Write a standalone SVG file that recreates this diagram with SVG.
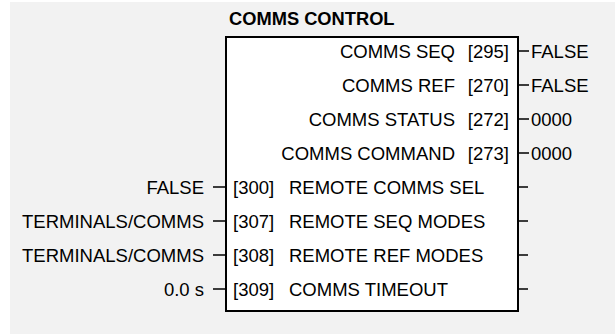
<svg xmlns="http://www.w3.org/2000/svg" width="615" height="334" viewBox="0 0 615 334">
<style>
text{font-family:"Liberation Sans",Arial,sans-serif;font-size:18.5px;fill:#000}
.title{font-weight:bold;font-size:18.3px}
.end{text-anchor:end}
.box{fill:#fff;stroke:#000;stroke-width:2}
.lead{stroke:#000;stroke-width:1.5;fill:none}
</style>
<rect x="10" y="2" width="605" height="332" fill="#f2f2f2"/>
<g id="comms-control">
<text class="title" x="229" y="25">COMMS CONTROL</text>
<rect class="box" x="226" y="37" width="292" height="274"/>
<text class="end" x="455" y="58">COMMS SEQ</text><text class="end" x="509" y="58">[295]</text>
<text class="end" x="455" y="92">COMMS REF</text><text class="end" x="509" y="92">[270]</text>
<text class="end" x="455" y="126">COMMS STATUS</text><text class="end" x="509" y="126">[272]</text>
<text class="end" x="455" y="160">COMMS COMMAND</text><text class="end" x="509" y="160">[273]</text>
<text x="233" y="194">[300]</text><text x="289" y="194">REMOTE COMMS SEL</text>
<text x="233" y="228">[307]</text><text x="289" y="228">REMOTE SEQ MODES</text>
<text x="233" y="262">[308]</text><text x="289" y="262">REMOTE REF MODES</text>
<text x="233" y="296">[309]</text><text x="289" y="296">COMMS TIMEOUT</text>
</g>
<g id="values">
<text x="531" y="58">FALSE</text>
<text x="531" y="92">FALSE</text>
<text x="531" y="126">0000</text>
<text x="531" y="160">0000</text>
<text class="end" x="204" y="194">FALSE</text>
<text class="end" x="204" y="228">TERMINALS/COMMS</text>
<text class="end" x="204" y="262">TERMINALS/COMMS</text>
<text class="end" x="204" y="296">0.0 s</text>
</g>
<g id="connectors">
<path class="lead" d="M518 51H529M518 85H529M518 119H529M518 153H529M518 187H528M518 221H528M518 255H528M518 289H528"/>
<path class="lead" d="M213 187H226M213 221H226M213 255H226M213 289H226"/>
</g>
</svg>
